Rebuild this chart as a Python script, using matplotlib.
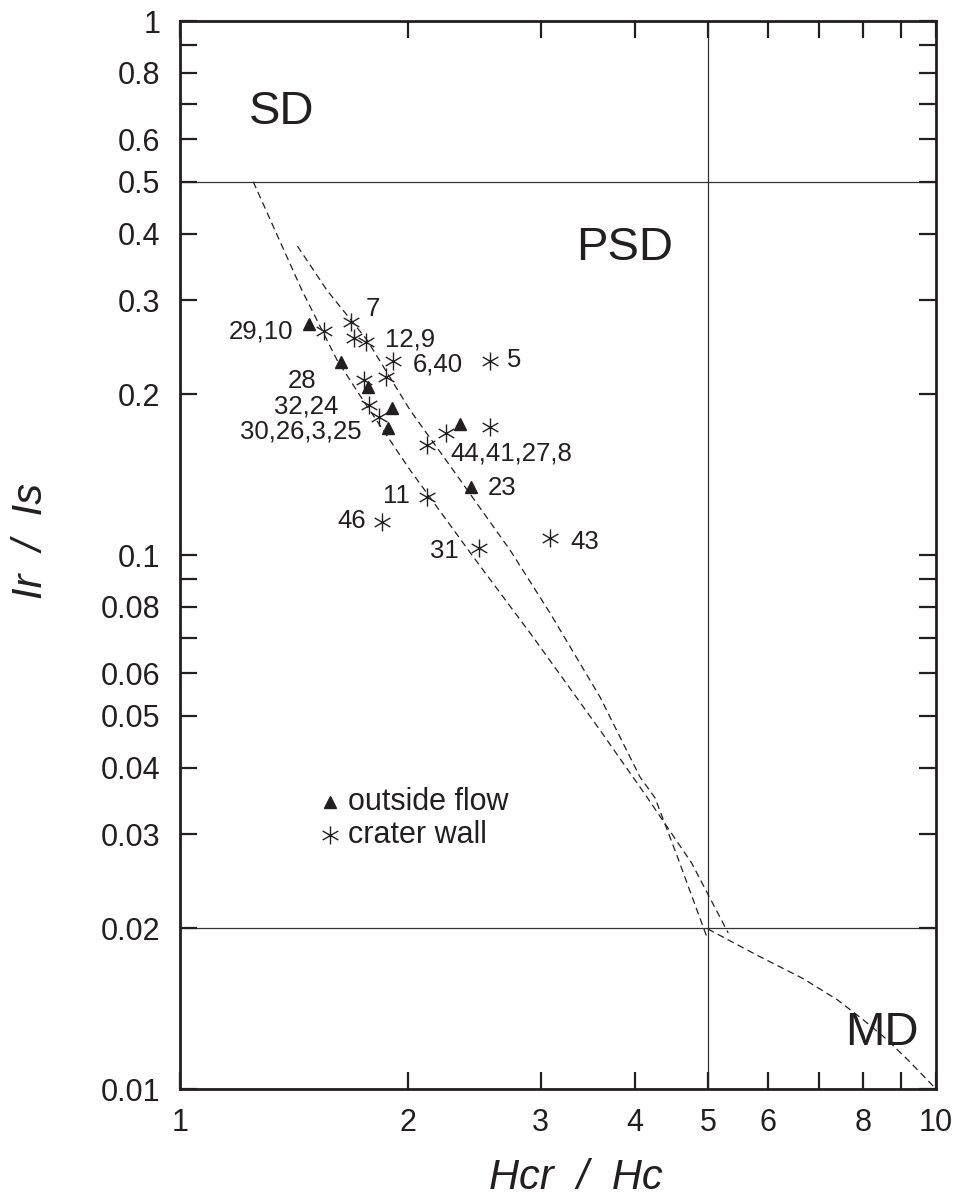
import numpy as np
import matplotlib
matplotlib.use("Agg")
import matplotlib.pyplot as plt
from matplotlib.path import Path
from matplotlib.ticker import FixedLocator, FixedFormatter, NullLocator

plt.rcParams['font.family'] = ['Liberation Sans', 'DejaVu Sans']

# ---------------- data ----------------
# outside flow (triangles): Hcr/Hc, Mr/Ms
tri_x = [1.481, 1.633, 1.773, 1.907, 1.884, 2.346, 2.426]
tri_y = [0.2708, 0.2298, 0.2063, 0.1885, 0.1729, 0.1759, 0.1341]

# crater wall (asterisks)
ast_x = [1.684, 1.552, 1.701, 1.761, 1.911, 1.871, 1.752, 1.780, 1.835,
         2.570, 2.570, 2.246, 2.124, 2.124, 1.848, 2.489, 3.086]
ast_y = [0.2735, 0.2630, 0.2544, 0.2507, 0.2311, 0.2157, 0.2127, 0.1910, 0.1816,
         0.2305, 0.1739, 0.1690, 0.1607, 0.1282, 0.1154, 0.1029, 0.1075]

# dashed mixing curves
curveA_x = [1.25, 1.450, 1.613, 1.746, 2.015, 2.433, 2.931, 3.594, 4.147, 4.75, 5.31]
curveA_y = [0.50, 0.313, 0.232, 0.195, 0.1443, 0.100, 0.0702, 0.0470, 0.0352, 0.0265, 0.0196]
curveB_x = [1.43, 1.565, 1.768, 2.015, 2.297, 2.732, 3.086, 3.594, 4.059, 4.249, 4.55, 4.98]
curveB_y = [0.379, 0.313, 0.2527, 0.1868, 0.1443, 0.1022, 0.0779, 0.0542, 0.0384, 0.0351, 0.0272, 0.0192]
curveMD_x = [4.99, 5.8, 6.67, 7.4, 8.0, 8.6, 9.2, 10.0]
curveMD_y = [0.01994, 0.0178, 0.0161, 0.0147, 0.0135, 0.0124, 0.0113, 0.0100]

# boundaries
sd_psd = 0.5
psd_md = 0.02
hc_md = 5

# sample labels: text, x, y, alignment
labels = [("7", 1.800, 0.2888, "center"),
          ("29,10", 1.411, 0.2627, "right"),
          ("12,9", 1.867, 0.2538, "left"),
          ("6,40", 2.033, 0.2278, "left"),
          ("5", 2.707, 0.2318, "left"),
          ("28", 1.450, 0.2118, "center"),
          ("32,24", 1.618, 0.1901, "right"),
          ("30,26,3,25", 1.741, 0.1707, "right"),
          ("44,41,27,8", 2.276, 0.1552, "left"),
          ("23", 2.556, 0.1335, "left"),
          ("11", 2.015, 0.1290, "right"),
          ("46", 1.762, 0.1158, "right"),
          ("31", 2.339, 0.1017, "right"),
          ("43", 3.281, 0.1057, "left")]

regions = [("SD", 1.364, 0.6755), ("PSD", 3.879, 0.3757), ("MD", 8.483, 0.01273)]

xticks = [1, 2, 3, 4, 5, 6, 7, 8, 9, 10]
xticklabels = ["1", "2", "3", "4", "5", "6", "", "8", "", "10"]
yticks = [0.01, 0.02, 0.03, 0.04, 0.05, 0.06, 0.07, 0.08, 0.09,
          0.1, 0.2, 0.3, 0.4, 0.5, 0.6, 0.7, 0.8, 0.9, 1]
yticklabels = ["0.01", "0.02", "0.03", "0.04", "0.05", "0.06", "", "0.08", "",
               "0.1", "0.2", "0.3", "0.4", "0.5", "0.6", "", "0.8", "", "1"]

xlabel = "Hcr  /  Hc"
ylabel = "Ir  /  Is"

# ---------------- figure ----------------
ink = '#231f20'
fig = plt.figure(figsize=(9.64, 12.02), dpi=100)
ax = fig.add_axes([0.1867, 0.094, 0.7843, 0.8885])
ax.set_xscale('log')
ax.set_yscale('log')
ax.set_xlim(1, 10)
ax.set_ylim(0.01, 1)

# boundary lines
ax.axhline(sd_psd, color='#333333', lw=0.9, zorder=1)
ax.axhline(psd_md, color='#333333', lw=0.9, zorder=1)
ax.axvline(hc_md, color='#333333', lw=0.9, zorder=1)

# dashed curves
for cx, cy in [(curveA_x, curveA_y), (curveB_x, curveB_y), (curveMD_x, curveMD_y)]:
    ax.plot(cx, cy, color=ink, lw=0.9, ls=(0, (5.5, 3.5)), zorder=2)

# custom 6-armed asterisk marker
ang = np.deg2rad([90, 30, 150])
verts, codes = [], []
for a in ang:
    verts += [(np.cos(a), np.sin(a)), (-np.cos(a), -np.sin(a))]
    codes += [Path.MOVETO, Path.LINETO]
star = Path(verts, codes)

ax.plot(tri_x, tri_y, ls='none', marker='^', ms=9, color=ink, mec=ink, zorder=4)
ax.plot(ast_x, ast_y, ls='none', marker=star, ms=13, color=ink, mew=1.0, zorder=4)

for t, x, y, ha in labels:
    ax.text(x, y, t, ha=ha, va='center', fontsize=18.5, color=ink)

for t, x, y in regions:
    ax.text(x, y, t, ha='center', va='center', fontsize=34, color=ink)

# legend (manual)
ax.plot([0.198], [0.2687], transform=ax.transAxes, ls='none', marker='^', ms=9,
        color=ink, clip_on=False)
ax.plot([0.198], [0.2378], transform=ax.transAxes, ls='none', marker=star, ms=13,
        color=ink, mew=1.0, clip_on=False)
ax.text(0.222, 0.2687, "outside flow", transform=ax.transAxes, fontsize=22,
        va='center', ha='left', color=ink)
ax.text(0.222, 0.2378, "crater wall", transform=ax.transAxes, fontsize=22,
        va='center', ha='left', color=ink)

# ticks
ax.xaxis.set_major_locator(FixedLocator(xticks))
ax.xaxis.set_major_formatter(FixedFormatter(xticklabels))
ax.xaxis.set_minor_locator(NullLocator())
ax.yaxis.set_major_locator(FixedLocator(yticks))
ax.yaxis.set_major_formatter(FixedFormatter(yticklabels))
ax.yaxis.set_minor_locator(NullLocator())
ax.tick_params(which='major', direction='in', length=12.5, width=1.6, color=ink,
               top=True, right=True, labelsize=22, labelcolor=ink, pad=14)

for s in ax.spines.values():
    s.set_linewidth(2.0)
    s.set_color(ink)

ax.set_xlabel(xlabel, fontsize=30, style='italic', color=ink, labelpad=14)
ax.set_ylabel(ylabel, fontsize=30, style='italic', color=ink, labelpad=36)
ax.xaxis.label.set_x(0.524)
ax.yaxis.label.set_y(0.513)

fig.savefig("out.png", dpi=100)
